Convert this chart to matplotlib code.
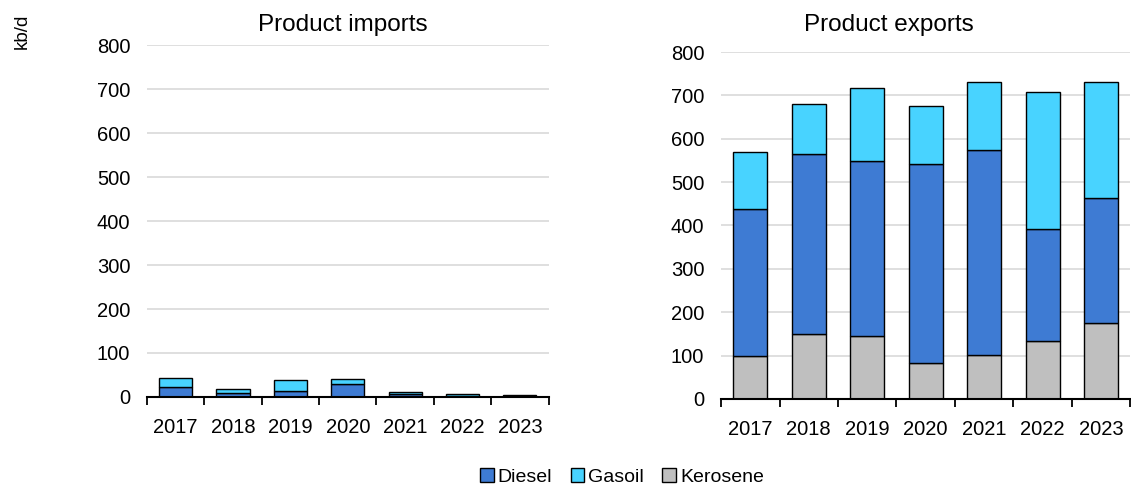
import matplotlib
matplotlib.use("Agg")
import matplotlib.pyplot as plt
import numpy as np
from matplotlib.patches import Patch

plt.rcParams['font.family'] = ['Liberation Sans', 'DejaVu Sans']

years = ["2017", "2018", "2019", "2020", "2021", "2022", "2023"]

# product imports, kb/d
imp_kerosene = [0, 0, 0, 0, 0, 0, 0]
imp_diesel = [23, 9, 14, 29, 6, 3, 2]
imp_gasoil = [21, 9, 25, 11, 6, 3, 2]

# product exports, kb/d
exp_kerosene = [99, 149, 146, 83, 102, 133, 175]
exp_diesel = [339, 416, 403, 460, 472, 258, 289]
exp_gasoil = [132, 115, 168, 132, 156, 316, 268]

c_diesel = "#3e7bd3"
c_gasoil = "#48d3ff"
c_kero = "#bfbfbf"


def stacked(ax, kero, diesel, gasoil):
    x = np.arange(len(years))
    kero = np.array(kero)
    diesel = np.array(diesel)
    gasoil = np.array(gasoil)
    kw = dict(width=0.58, edgecolor="black", linewidth=1.0, zorder=3)
    ax.bar(x, kero, color=c_kero, **kw)
    ax.bar(x, diesel, bottom=kero, color=c_diesel, **kw)
    ax.bar(x, gasoil, bottom=kero + diesel, color=c_gasoil, **kw)

    ax.set_ylim(0, 800)
    ax.set_yticks(range(0, 801, 100))
    ax.set_xlim(-0.5, len(years) - 0.5)
    ax.set_xticks(x)
    ax.set_xticklabels(years)
    # tick marks sit between the categories
    ax.set_xticks(np.arange(-0.5, len(years)), minor=True)
    ax.tick_params(axis="x", which="major", length=0, pad=15, labelsize=14.5)
    ax.tick_params(axis="x", which="minor", length=6, width=1.3, direction="out")
    ax.tick_params(axis="y", length=0, pad=12, labelsize=14.5)
    ax.grid(True, axis="y", color="#d9d9d9", linewidth=1.2, zorder=0)
    for s in ["top", "right", "left"]:
        ax.spines[s].set_visible(False)
    ax.spines["bottom"].set_linewidth(1.5)
    ax.spines["bottom"].set_zorder(4)


fig = plt.figure(figsize=(11.31, 4.87), dpi=100)
ax1 = fig.add_axes([0.130, 0.185, 0.355, 0.722])
ax2 = fig.add_axes([0.6375, 0.181, 0.362, 0.712])

stacked(ax1, imp_kerosene, imp_diesel, imp_gasoil)
stacked(ax2, exp_kerosene, exp_diesel, exp_gasoil)

fig.text(0.303, 0.948, "Product imports", fontsize=17.5, ha="center", va="center")
fig.text(0.786, 0.948, "Product exports", fontsize=17.5, ha="center", va="center")
fig.text(0.02, 0.935, "kb/d", rotation=90, fontsize=13.5, ha="center", va="center")

handles = [Patch(facecolor=c_diesel, edgecolor="black", label="Diesel"),
           Patch(facecolor=c_gasoil, edgecolor="black", label="Gasoil"),
           Patch(facecolor=c_kero, edgecolor="black", label="Kerosene")]
fig.legend(handles=handles, loc="center", bbox_to_anchor=(0.55, 0.02),
           ncol=3, frameon=False, fontsize=14, handlelength=0.7, handleheight=0.7,
           handletextpad=0.2, columnspacing=0.95)

fig.savefig("out.png", dpi=100)
